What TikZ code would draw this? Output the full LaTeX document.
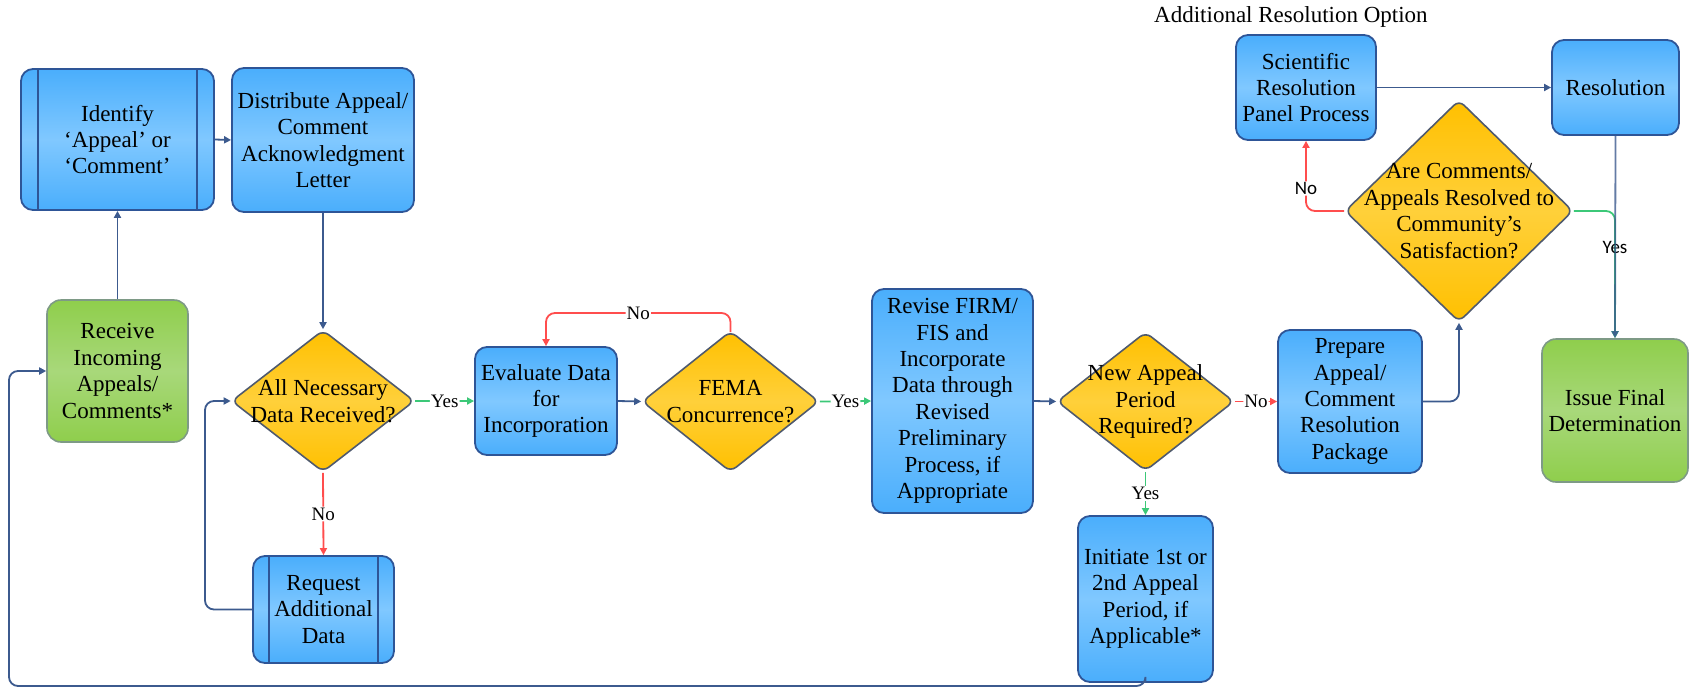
\documentclass[tikz,border=0pt]{standalone}
\usepackage{fontspec}
\setmainfont{Liberation Serif}
\newfontfamily\lblsansfont{Carlito}
\usetikzlibrary{shapes.geometric,arrows.meta,calc}
\definecolor{bluetop}{HTML}{4AAEFC}
\definecolor{bluemid}{HTML}{80C8FF}
\definecolor{blueline}{HTML}{2E5597}
\definecolor{greentop}{HTML}{8FCE4C}
\definecolor{greenmid}{HTML}{A8D87A}
\definecolor{greenline}{HTML}{7E9A86}
\definecolor{goldtop}{HTML}{FFC000}
\definecolor{goldmid}{HTML}{FFD03A}
\definecolor{goldline}{HTML}{4F5A6E}
\definecolor{connc}{HTML}{3C5A8E}
\definecolor{redc}{HTML}{FF4D4D}
\definecolor{greenc}{HTML}{3CC878}
\tikzset{
 base/.style={font=\fontsize{23}{26.4}\selectfont, align=center, inner sep=1pt},
 bluebox/.style={base, rectangle, rounded corners=12pt, draw=blueline, line width=1.8pt,
   top color=bluetop, bottom color=bluetop, middle color=bluemid},
 greenbox/.style={base, rectangle, rounded corners=14pt, draw=greenline, line width=1.6pt,
   top color=greentop, bottom color=greentop, middle color=greenmid},
 dia/.style={diamond, rounded corners=7pt, draw=goldline, line width=1.6pt,
   top color=goldtop, bottom color=goldtop, middle color=goldmid, inner sep=0pt},
 txt/.style={base},
 arr/.style={line width=1.8pt, -{Triangle[length=7pt,width=7pt]}, rounded corners=9pt},
 flow/.style={arr, draw=connc},
 noflow/.style={arr, draw=redc},
 yesflow/.style={arr, draw=greenc},
 lbl/.style={font=\fontsize{19}{21}\selectfont, fill=white, inner sep=1pt, text=black},
 lblsans/.style={font=\lblsansfont\fontsize{19}{21}\selectfont, inner sep=1pt, text=black},
}
\begin{document}
\begin{tikzpicture}[x=1pt,y=-1pt]
\useasboundingbox (0,0) rectangle (1690,689);
% nodes
\node[bluebox, minimum width=193pt, minimum height=141pt] (idf) at (117.5,139.5) {Identify\\‘Appeal’ or\\‘Comment’};
\draw[blueline, line width=1.8pt] ([xshift=18pt]idf.north west) -- ([xshift=18pt]idf.south west);
\draw[blueline, line width=1.8pt] ([xshift=-18pt]idf.north east) -- ([xshift=-18pt]idf.south east);
\node[bluebox, minimum width=182pt, minimum height=144pt] (dis) at (323,140) {Distribute Appeal/\\Comment\\Acknowledgment\\Letter};
\node[greenbox, minimum width=141pt, minimum height=142pt] (rec) at (117.5,371) {Receive\\Incoming\\Appeals/\\Comments*};
\node[dia, minimum width=183pt, minimum height=142pt] (d1) at (323,401) {};
\node[txt] at (d1) {All Necessary\\Data Received?};
\node[bluebox, minimum width=141pt, minimum height=107pt] (req) at (323.5,609.5) {Request\\Additional\\Data};
\draw[blueline, line width=1.8pt] ([xshift=17pt]req.north west) -- ([xshift=17pt]req.south west);
\draw[blueline, line width=1.8pt] ([xshift=-17pt]req.north east) -- ([xshift=-17pt]req.south east);
\node[bluebox, minimum width=142pt, minimum height=108pt] (eva) at (546,401) {Evaluate Data\\for\\Incorporation};
\node[dia, minimum width=177pt, minimum height=141pt] (fema) at (730.5,401.5) {};
\node[txt] at (fema) {FEMA\\Concurrence?};
\node[bluebox, minimum width=161pt, minimum height=224pt] (rev) at (952.5,401) {Revise FIRM/\\FIS and\\Incorporate\\Data through\\Revised\\Preliminary\\Process, if\\Appropriate};
\node[dia, minimum width=177pt, minimum height=139pt] (app) at (1145.5,401.5) {};
\node[txt] at (app) {New Appeal\\Period\\Required?};
\node[bluebox, minimum width=135pt, minimum height=166pt] (ini) at (1145.5,599) {Initiate 1st or\\2nd Appeal\\Period, if\\Applicable*};
\node[bluebox, minimum width=144pt, minimum height=143pt] (prep) at (1350,401.5) {Prepare\\Appeal/\\Comment\\Resolution\\Package};
\node[dia, minimum width=228pt, minimum height=222pt] (big) at (1459,211) {};
\node[txt] at (big) {Are Comments/\\Appeals Resolved to\\Community’s\\Satisfaction?};
\node[bluebox, minimum width=140pt, minimum height=105pt] (sci) at (1306,87.5) {Scientific\\Resolution\\Panel Process};
\node[bluebox, minimum width=127pt, minimum height=95pt] (res) at (1615.5,87.5) {Resolution};
\node[greenbox, minimum width=146pt, minimum height=143pt] (iss) at (1615,410.5) {Issue Final\\Determination};
\node[base, anchor=west] (opt) at (1153,17) {Additional Resolution Option};
% connectors
\draw[flow] (rec.north) -- (idf.south);
\draw[flow] (idf.east) -- (dis.west);
\draw[flow] (dis.south) -- (d1.north);
\draw[yesflow] (d1.east) -- node[lbl]{Yes} (eva.west);
\draw[noflow] (d1.south) -- node[lbl]{No} (req.north);
\coordinate (c1) at (205,401);
\draw[flow] (req.west) -| (c1) -- (d1.west);
\draw[flow] (eva.east) -- (fema.west);
\draw[noflow] ([yshift=-2pt]fema.north) -- (fema.north |- 0,313) -- node[lbl]{No} (eva.north |- 0,313) -- (eva.north);
\draw[yesflow] (fema.east) -- node[lbl]{Yes} (rev.west);
\draw[flow] (rev.east) -- (app.west);
\draw[noflow] (app.east) -- node[lbl]{No} (prep.west);
\draw[yesflow] (app.south) -- node[lbl]{Yes} (ini.north);
\draw[flow] (prep.east) -| (big.south);
\draw[noflow] (big.west) -| node[lbl, font=\lblsansfont\fontsize{19}{21}\selectfont, pos=0.66]{No} (sci.south);
\draw[flow] (sci.east) -- (res.west);
\draw[yesflow] (big.east) -| node[lblsans, pos=0.645]{Yes} (iss.north);
\draw[flow, opacity=0.8] (res.south) -- (iss.north);
\coordinate (c2) at (9,686);
\draw[flow] (ini.south) |- (c2) |- (rec.west);
\end{tikzpicture}
\end{document}
